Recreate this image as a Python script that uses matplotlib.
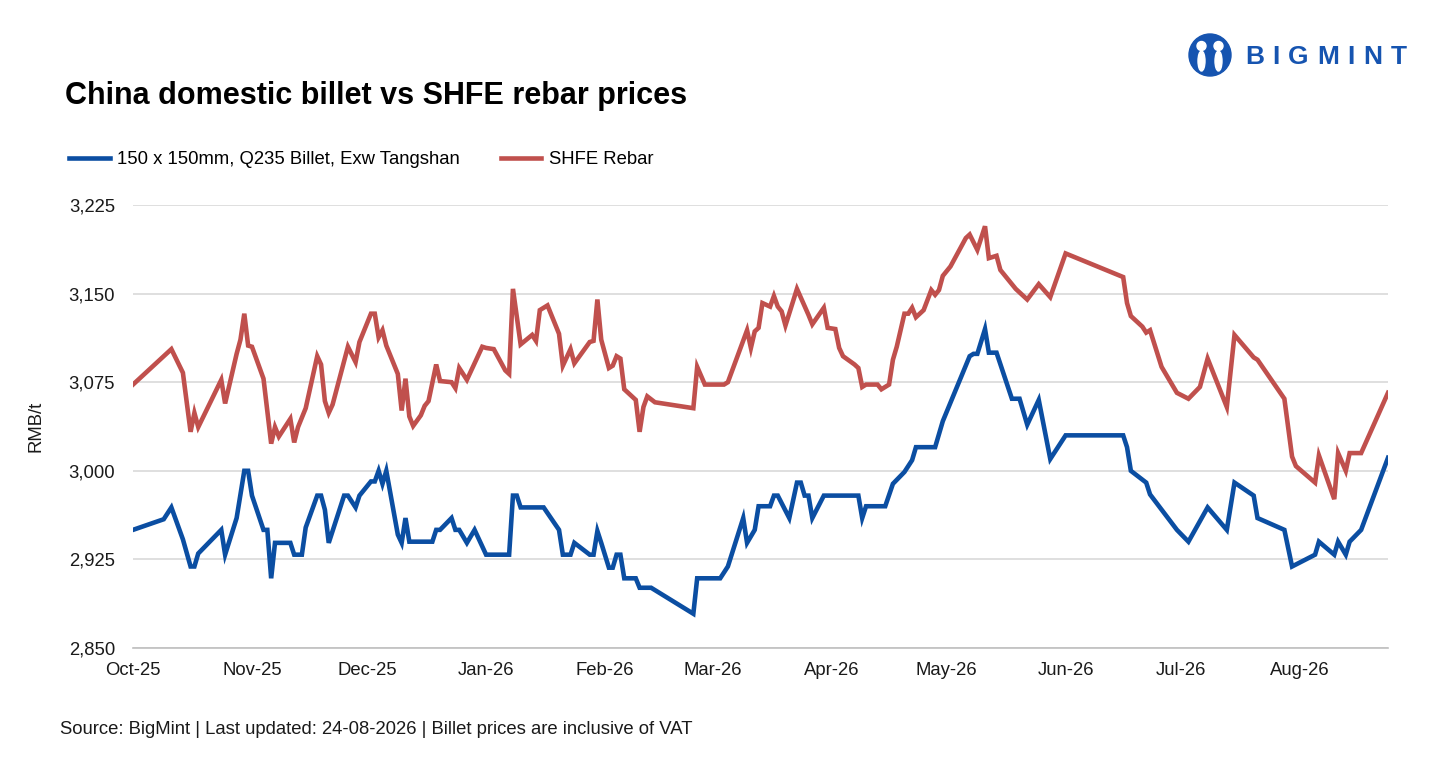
import matplotlib
matplotlib.use("Agg")
import matplotlib.pyplot as plt
import matplotlib.dates as mdates
from matplotlib.patches import Circle, Ellipse
import pandas as pd

plt.rcParams["font.family"] = ["Liberation Sans", "DejaVu Sans"]

# billet, 150x150mm Q235, exw Tangshan (RMB/t)
billet_dates = [
    "2025-10-01", "2025-10-09", "2025-10-11", "2025-10-14", "2025-10-16", "2025-10-17",
    "2025-10-18", "2025-10-24", "2025-10-25", "2025-10-28", "2025-10-30", "2025-10-31",
    "2025-11-01", "2025-11-04", "2025-11-05", "2025-11-06", "2025-11-07", "2025-11-11",
    "2025-11-12", "2025-11-14", "2025-11-15", "2025-11-18", "2025-11-19", "2025-11-20",
    "2025-11-21", "2025-11-25", "2025-11-26", "2025-11-28", "2025-11-29", "2025-12-02",
    "2025-12-03", "2025-12-04", "2025-12-05", "2025-12-06", "2025-12-09", "2025-12-10",
    "2025-12-11", "2025-12-12", "2025-12-18", "2025-12-19", "2025-12-20", "2025-12-23",
    "2025-12-24", "2025-12-25", "2025-12-27", "2025-12-29", "2026-01-01", "2026-01-07",
    "2026-01-08", "2026-01-09", "2026-01-10", "2026-01-16", "2026-01-20", "2026-01-21",
    "2026-01-23", "2026-01-24", "2026-01-28", "2026-01-29", "2026-01-30", "2026-01-31",
    "2026-02-02", "2026-02-03", "2026-02-04", "2026-02-05", "2026-02-06", "2026-02-09",
    "2026-02-10", "2026-02-13", "2026-02-24", "2026-02-25", "2026-03-03", "2026-03-05",
    "2026-03-09", "2026-03-10", "2026-03-12", "2026-03-13", "2026-03-16", "2026-03-17",
    "2026-03-18", "2026-03-21", "2026-03-23", "2026-03-24", "2026-03-25", "2026-03-26",
    "2026-03-27", "2026-03-30", "2026-04-08", "2026-04-09", "2026-04-10", "2026-04-15",
    "2026-04-17", "2026-04-20", "2026-04-22", "2026-04-23", "2026-04-28", "2026-04-30",
    "2026-05-07", "2026-05-08", "2026-05-09", "2026-05-11", "2026-05-12", "2026-05-14",
    "2026-05-18", "2026-05-20", "2026-05-22", "2026-05-25", "2026-05-28", "2026-06-01",
    "2026-06-16", "2026-06-17", "2026-06-18", "2026-06-22", "2026-06-23", "2026-06-30",
    "2026-07-03", "2026-07-08", "2026-07-13", "2026-07-15", "2026-07-20", "2026-07-21",
    "2026-07-28", "2026-07-30", "2026-08-05", "2026-08-06", "2026-08-10", "2026-08-11",
    "2026-08-13", "2026-08-14", "2026-08-17", "2026-08-24",
]
billet_prices = [
    2950, 2959, 2969, 2942, 2919, 2919,
    2930, 2950, 2929, 2960, 3000, 3000,
    2979, 2950, 2950, 2909, 2939, 2939,
    2929, 2929, 2952, 2979, 2979, 2967,
    2939, 2979, 2979, 2969, 2979, 2991,
    2991, 3000, 2989, 3000, 2946, 2939,
    2960, 2940, 2940, 2950, 2950, 2960,
    2950, 2950, 2939, 2950, 2929, 2929,
    2979, 2979, 2969, 2969, 2950, 2929,
    2929, 2939, 2929, 2929, 2949, 2939,
    2918, 2918, 2929, 2929, 2909, 2909,
    2901, 2901, 2879, 2909, 2909, 2919,
    2960, 2939, 2950, 2970, 2970, 2979,
    2979, 2960, 2990, 2990, 2979, 2979,
    2960, 2979, 2979, 2960, 2970, 2970,
    2989, 2999, 3009, 3020, 3020, 3042,
    3097, 3099, 3099, 3120, 3100, 3100,
    3061, 3061, 3039, 3060, 3010, 3030,
    3030, 3020, 3000, 2990, 2980, 2950,
    2940, 2969, 2950, 2990, 2979, 2960,
    2950, 2919, 2929, 2940, 2929, 2940,
    2929, 2940, 2950, 3011,
]

# SHFE rebar futures (RMB/t)
rebar_dates = [
    "2025-10-01", "2025-10-11", "2025-10-14", "2025-10-16", "2025-10-17", "2025-10-18",
    "2025-10-24", "2025-10-25", "2025-10-28", "2025-10-29", "2025-10-30", "2025-10-31",
    "2025-11-01", "2025-11-04", "2025-11-06", "2025-11-07", "2025-11-08", "2025-11-11",
    "2025-11-12", "2025-11-13", "2025-11-15", "2025-11-18", "2025-11-19", "2025-11-20",
    "2025-11-21", "2025-11-22", "2025-11-26", "2025-11-28", "2025-11-29", "2025-12-02",
    "2025-12-03", "2025-12-04", "2025-12-05", "2025-12-06", "2025-12-09", "2025-12-10",
    "2025-12-11", "2025-12-12", "2025-12-13", "2025-12-15", "2025-12-16", "2025-12-17",
    "2025-12-19", "2025-12-20", "2025-12-23", "2025-12-24", "2025-12-25", "2025-12-27",
    "2025-12-31", "2026-01-01", "2026-01-03", "2026-01-06", "2026-01-07", "2026-01-08",
    "2026-01-10", "2026-01-13", "2026-01-14", "2026-01-15", "2026-01-17", "2026-01-20",
    "2026-01-21", "2026-01-23", "2026-01-24", "2026-01-28", "2026-01-29", "2026-01-30",
    "2026-01-31", "2026-02-02", "2026-02-03", "2026-02-04", "2026-02-05", "2026-02-06",
    "2026-02-09", "2026-02-10", "2026-02-11", "2026-02-12", "2026-02-14", "2026-02-24",
    "2026-02-25", "2026-02-27", "2026-03-04", "2026-03-05", "2026-03-10", "2026-03-11",
    "2026-03-12", "2026-03-13", "2026-03-14", "2026-03-16", "2026-03-17", "2026-03-18",
    "2026-03-19", "2026-03-20", "2026-03-23", "2026-03-26", "2026-03-27", "2026-03-30",
    "2026-03-31", "2026-04-02", "2026-04-03", "2026-04-04", "2026-04-07", "2026-04-08",
    "2026-04-09", "2026-04-10", "2026-04-13", "2026-04-14", "2026-04-16", "2026-04-17",
    "2026-04-18", "2026-04-20", "2026-04-21", "2026-04-22", "2026-04-23", "2026-04-25",
    "2026-04-27", "2026-04-28", "2026-04-29", "2026-04-30", "2026-05-02", "2026-05-06",
    "2026-05-07", "2026-05-09", "2026-05-11", "2026-05-12", "2026-05-14", "2026-05-15",
    "2026-05-19", "2026-05-22", "2026-05-25", "2026-05-28", "2026-06-01", "2026-06-16",
    "2026-06-17", "2026-06-18", "2026-06-21", "2026-06-22", "2026-06-23", "2026-06-26",
    "2026-06-30", "2026-07-03", "2026-07-06", "2026-07-08", "2026-07-13", "2026-07-15",
    "2026-07-20", "2026-07-21", "2026-07-28", "2026-07-30", "2026-07-31", "2026-08-05",
    "2026-08-06", "2026-08-10", "2026-08-11", "2026-08-13", "2026-08-14", "2026-08-17",
    "2026-08-24",
]
rebar_prices = [
    3073, 3103, 3083, 3033, 3049, 3037,
    3077, 3057, 3099, 3111, 3133, 3106,
    3105, 3078, 3023, 3037, 3029, 3044,
    3024, 3037, 3053, 3097, 3090, 3059,
    3049, 3056, 3105, 3092, 3109, 3133,
    3133, 3113, 3119, 3106, 3082, 3051,
    3078, 3046, 3038, 3047, 3055, 3059,
    3090, 3076, 3075, 3070, 3087, 3077,
    3105, 3104, 3103, 3085, 3082, 3154,
    3107, 3115, 3110, 3136, 3140, 3116,
    3089, 3103, 3091, 3109, 3110, 3145,
    3111, 3087, 3089, 3097, 3095, 3069,
    3060, 3033, 3054, 3063, 3058, 3053,
    3088, 3073, 3073, 3075, 3119, 3104,
    3118, 3121, 3142, 3139, 3148, 3139,
    3135, 3123, 3154, 3132, 3124, 3138,
    3121, 3120, 3104, 3097, 3090, 3087,
    3071, 3073, 3073, 3069, 3073, 3094,
    3105, 3133, 3133, 3138, 3130, 3136,
    3153, 3149, 3153, 3165, 3173, 3197,
    3200, 3187, 3207, 3180, 3182, 3170,
    3154, 3145, 3158, 3147, 3184, 3164,
    3142, 3131, 3122, 3117, 3119, 3088,
    3066, 3061, 3071, 3095, 3054, 3115,
    3096, 3094, 3061, 3012, 3004, 2990,
    3013, 2976, 3015, 3000, 3015, 3015,
    3066,
]

billet_label = "150 x 150mm, Q235 Billet, Exw Tangshan"
rebar_label = "SHFE Rebar"
month_ticks = pd.date_range("2025-10-01", "2026-08-01", freq="MS")
y_ticks = [2850, 2925, 3000, 3075, 3150, 3225]

BLUE = "#0B4EA2"
RED = "#C0504D"
FS = 13.3

fig = plt.figure(figsize=(14.31, 7.65), dpi=100)
ax = fig.add_axes([133 / 1431, 1 - 648 / 765, (1388 - 133) / 1431, (648 - 205) / 765])

ax.plot(pd.to_datetime(billet_dates), billet_prices, color=BLUE, lw=3.3,
        solid_joinstyle="miter", label=billet_label, zorder=3)
ax.plot(pd.to_datetime(rebar_dates), rebar_prices, color=RED, lw=3.3,
        solid_joinstyle="miter", label=rebar_label, zorder=3)

ax.set_xlim(pd.Timestamp("2025-10-01"), pd.Timestamp("2026-08-24"))
ax.set_ylim(2850, 3225)
ax.set_yticks(y_ticks)
ax.set_yticklabels([f"{v:,}" for v in y_ticks])
ax.set_xticks(month_ticks)
ax.xaxis.set_major_formatter(mdates.DateFormatter("%b-%y"))
ax.grid(axis="y", color="#d9d9d9", lw=1.2)
ax.set_axisbelow(True)
for s in ["top", "right", "left"]:
    ax.spines[s].set_visible(False)
ax.spines["bottom"].set_color("#bfbfbf")
ax.spines["bottom"].set_linewidth(1.2)
ax.tick_params(axis="both", length=0, labelsize=FS, colors="#1a1a1a")
ax.tick_params(axis="x", pad=10)
ax.tick_params(axis="y", pad=13)
ax.set_ylabel("RMB/t", fontsize=FS, color="#1a1a1a", labelpad=17)

fig.text(65 / 1431, 1 - 96 / 765, "China domestic billet vs SHFE rebar prices",
         fontsize=22, fontweight="bold", va="center", ha="left")

fig.legend(loc="center left", bbox_to_anchor=(62 / 1431, 1 - 160 / 765), ncol=2,
           frameon=False, fontsize=FS, handlelength=2.2, handletextpad=0.4,
           columnspacing=2.2, borderaxespad=0)

fig.text(60 / 1431, 1 - 730 / 765,
         "Source: BigMint | Last updated: 24-08-2026 | Billet prices are inclusive of VAT",
         fontsize=FS, va="center", ha="left", color="#1a1a1a")

# logo
LOGO = "#1654B0"
lax = fig.add_axes([1185 / 1431, 1 - 80 / 765, 50 / 1431, 50 / 765])
lax.set_xlim(0, 1)
lax.set_ylim(0, 1)
lax.set_aspect("equal")
lax.axis("off")
lax.add_patch(Circle((0.5, 0.5), 0.42, color=LOGO))
lax.add_patch(Circle((0.33, 0.68), 0.09, color="white"))
lax.add_patch(Circle((0.67, 0.68), 0.09, color="white"))
lax.add_patch(Ellipse((0.33, 0.38), 0.14, 0.4, color="white"))
lax.add_patch(Ellipse((0.67, 0.38), 0.14, 0.4, color="white"))
lax.add_patch(Ellipse((0.5, 0.3), 0.1, 0.3, color=LOGO))

# spaced-out wordmark: place letters one by one with an even gap
renderer = fig.canvas.get_renderer()
px = 1245.0
for ch in "BIGMINT":
    t = fig.text(px / 1431, 1 - 57 / 765, ch, fontsize=19, fontweight="bold",
                 color=LOGO, ha="left", va="center")
    px += t.get_window_extent(renderer).width + 8.5

fig.savefig("out.png", dpi=100)
